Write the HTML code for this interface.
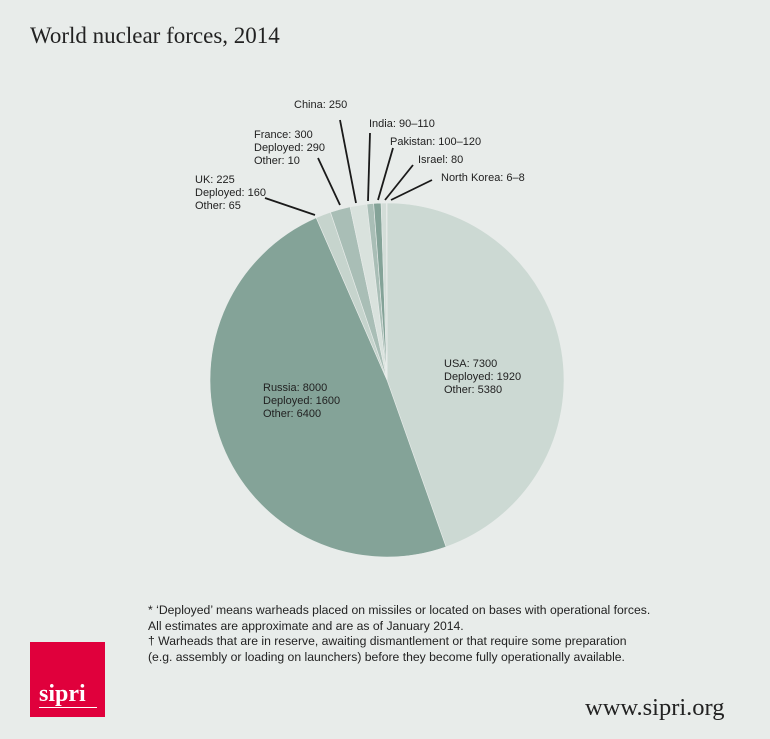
<!DOCTYPE html>
<html><head><meta charset="utf-8"><style>
body{margin:0;background:#e8ecea;}
#c{position:relative;width:770px;height:739px;background:#e8ecea;font-family:"Liberation Sans",sans-serif;color:#222;overflow:hidden}
.t{position:absolute;font-size:11px;line-height:13px;}
</style></head><body>
<div id="c">
<div class="t" style="left:30px;top:22px;font-family:'Liberation Serif',serif;font-size:23px;line-height:28px;color:#222">World nuclear forces, 2014</div>
<svg id="pie" width="770" height="739" style="position:absolute;left:0;top:0"></svg>
<div class="t" style="left:294px;top:99px">China: 250</div>
<div class="t" style="left:369px;top:118px">India: 90–110</div>
<div class="t" style="left:390px;top:136px">Pakistan: 100–120</div>
<div class="t" style="left:418px;top:154px">Israel: 80</div>
<div class="t" style="left:441px;top:172px">North Korea: 6–8</div>
<div class="t" style="left:254px;top:129px">France: 300<br>Deployed: 290<br>Other: 10</div>
<div class="t" style="left:195px;top:174px">UK: 225<br>Deployed: 160<br>Other: 65</div>
<div class="t" style="left:444px;top:358px">USA: 7300<br>Deployed: 1920<br>Other: 5380</div>
<div class="t" style="left:263px;top:382px">Russia: 8000<br>Deployed: 1600<br>Other: 6400</div>
<div class="t" style="left:148px;top:603px;font-size:12.2px;line-height:15.5px;white-space:nowrap">* ‘Deployed’ means warheads placed on missiles or located on bases with operational forces.<br>All estimates are approximate and are as of January 2014.<br>† Warheads that are in reserve, awaiting dismantlement or that require some preparation<br>(e.g. assembly or loading on launchers) before they become fully operationally available.</div>
<div style="position:absolute;left:30px;top:642px;width:75px;height:75px;background:#e0003c;color:#fff;font-family:'Liberation Serif',serif;font-weight:bold;font-size:24px;">
<div style="position:absolute;left:9px;top:40px;line-height:24px">sipri</div>
<div style="position:absolute;left:9px;top:65px;width:58px;height:1px;background:#fff"></div></div>
<div class="t" style="left:585px;top:694px;font-family:'Liberation Serif',serif;font-size:24.5px;line-height:28px;white-space:nowrap">www.sipri.org</div>
</div>
<script>
const countries=["USA","Russia","UK","France","China","India","Pakistan","Israel","North Korea"];
const warheads=[7300,8000,225,300,250,100,110,80,7];
const colors=["#ccd9d3","#84a398","#c6d4cd","#a9beb6","#d9e2dd","#a9beb6","#84a398","#d3ddd8","#84a398"];
const svg=document.getElementById('pie');const NS="http://www.w3.org/2000/svg";
const cx=387,cy=380,r=177;const total=warheads.reduce((a,b)=>a+b,0);
function pt(a,rr){return [cx+rr*Math.sin(a),cy-rr*Math.cos(a)];}
let a0=0;
warheads.forEach((v,i)=>{const a1=a0+v/total*2*Math.PI;const p0=pt(a0,r),p1=pt(a1,r);
const p=document.createElementNS(NS,'path');
p.setAttribute('d',`M${cx},${cy}L${p0[0]},${p0[1]}A${r},${r} 0 ${a1-a0>Math.PI?1:0} 1 ${p1[0]},${p1[1]}Z`);
p.setAttribute('fill',colors[i]);p.setAttribute('stroke','#e8ecea');p.setAttribute('stroke-width','0.6');


svg.appendChild(p);a0=a1;});
const leaders=[[265,198,315,215],[318,158,340,205],[340,120,356,203],[370,133,368,201],[393,148,378,200],[413,165,385,200],[432,180,391,200]];
leaders.forEach(l=>{const ln=document.createElementNS(NS,'line');
ln.setAttribute('x1',l[0]);ln.setAttribute('y1',l[1]);ln.setAttribute('x2',l[2]);ln.setAttribute('y2',l[3]);
ln.setAttribute('stroke','#1a1a1a');ln.setAttribute('stroke-width','1.8');


svg.appendChild(ln);});
</script>
</body></html>
